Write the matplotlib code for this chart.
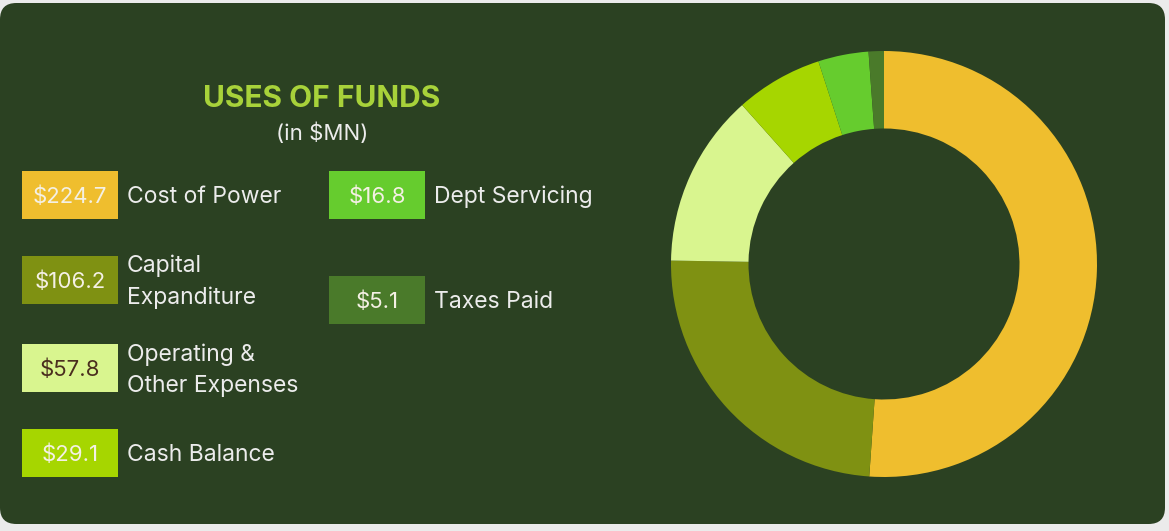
import matplotlib
matplotlib.use("Agg")
from matplotlib import pyplot as plt
from matplotlib.patches import FancyBboxPatch, Rectangle

plt.rcParams['font.family'] = ['Inter', 'DejaVu Sans']

# data
labels = ['Cost of Power', 'Capital\nExpanditure', 'Operating &\nOther Expenses',
          'Cash Balance', 'Dept Servicing', 'Taxes Paid']
values = [224.7, 106.2, 57.8, 29.1, 16.8, 5.1]
colors = ['#efbe2e', '#7f9112', '#d9f58f', '#a6d600', '#66cc2e', '#4a7a2a']
value_text_colors = ['#f4f0e4', '#f4f0e4', '#4a2e1e', '#f4f0e4', '#f4f0e4', '#f4f0e4']

W, H = 1169, 531
card_color = '#2b4122'
text_color = '#ececec'

fig = plt.figure(figsize=(W / 100, H / 100), dpi=100, facecolor='#ebebeb')


def fx(px):
    return px / W


def fy(py):
    return 1 - py / H


# card background
card = FancyBboxPatch((fx(0), fy(524)), fx(1165), (524 - 3) / H,
                      boxstyle="round,pad=0,rounding_size=0.014",
                      mutation_aspect=W / H,
                      transform=fig.transFigure, facecolor=card_color,
                      edgecolor='none', zorder=-5)
fig.patches.append(card)

# title
fig.text(fx(322), fy(99), 'USES OF FUNDS', color='#a8d23a', fontsize=21.5,
         fontweight='bold', ha='center', va='center')
fig.text(fx(322), fy(133), '(in $MN)', color=text_color, fontsize=16,
         ha='center', va='center')

# legend boxes
box_x = [22, 22, 22, 22, 329, 329]
box_y = [195, 280, 368, 453, 195, 300]
bw, bh = 96, 48
for i, lab in enumerate(labels):
    x0, yc = box_x[i], box_y[i]
    fig.patches.append(Rectangle((fx(x0), fy(yc + bh / 2)), fx(bw), bh / H,
                                 transform=fig.transFigure, zorder=-4,
                                 facecolor=colors[i], edgecolor='none'))
    fig.text(fx(x0 + bw / 2), fy(yc + 1.5), f'${values[i]}', color=value_text_colors[i],
             fontsize=16, ha='center', va='center')
    fig.text(fx(x0 + bw + 9), fy(yc + 2), lab, color=text_color, fontsize=16.5,
             ha='left', va='center', linespacing=1.55)

# donut
cx, cy, r = 884, 264, 213
ax = fig.add_axes([fx(cx - r), fy(cy + r), fx(2 * r), 2 * r / H])
ax.set_zorder(2)
ax.pie(values, colors=colors, startangle=90, counterclock=False,
       radius=1, wedgeprops=dict(width=1 - 135.5 / r, edgecolor='none'))
ax.set_xlim(-1, 1)
ax.set_ylim(-1, 1)
ax.set_aspect('equal')
ax.axis('off')

fig.savefig('out.png', dpi=100, facecolor=fig.get_facecolor())
